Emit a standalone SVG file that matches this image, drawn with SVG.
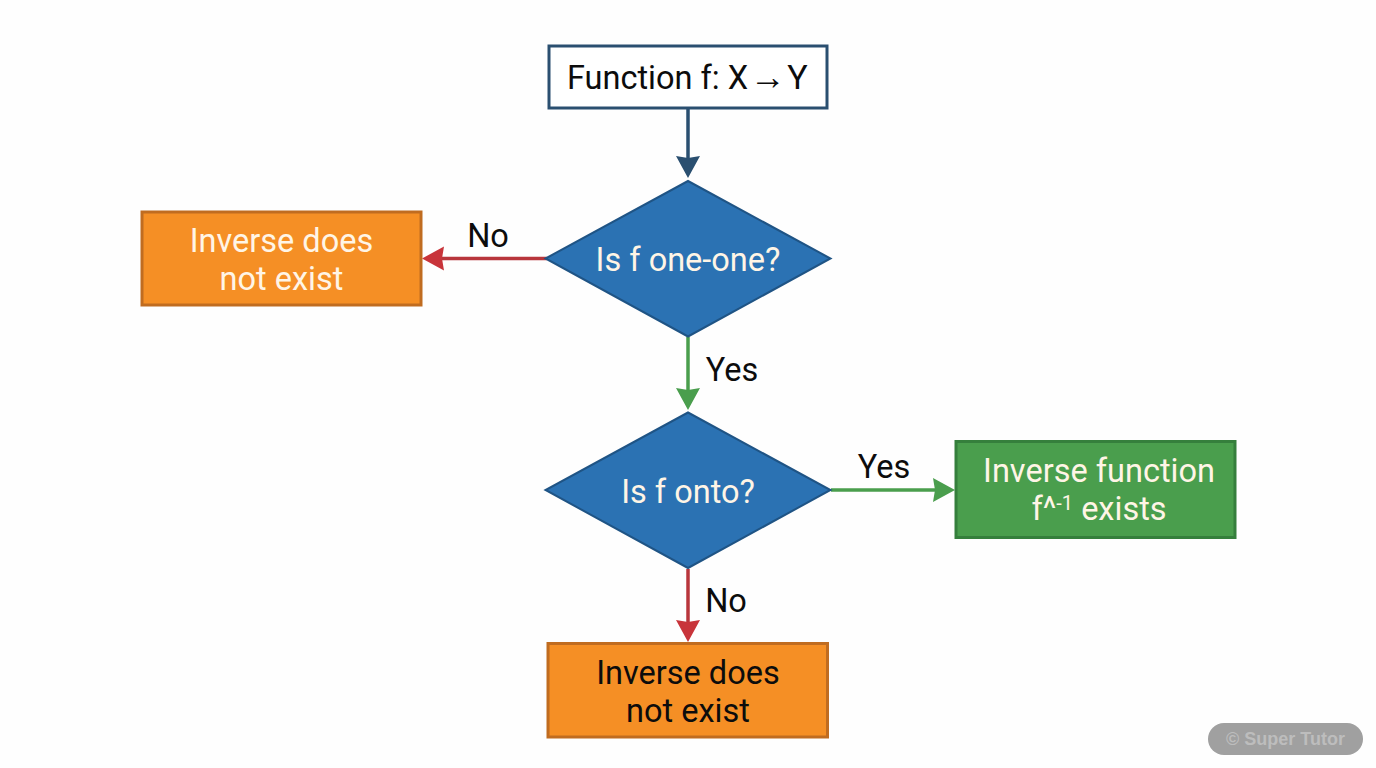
<svg xmlns="http://www.w3.org/2000/svg" width="1376" height="768" viewBox="0 0 1376 768">
<style>
text{font-family:Roboto,"Liberation Sans",sans-serif;text-anchor:middle;font-size:32.500px}
.w{fill:#fff5e6}.k{fill:#0c0c0c}
.o{fill:#f58f25;stroke:#c06c20;stroke-width:3}
.g{fill:#4a9e4d;stroke:#357f3c;stroke-width:3}
.d{fill:#2b72b3;stroke:#1f5485;stroke-width:2}
.c{fill:none;stroke-width:3.500}
</style>
<rect width="1376" height="768" fill="#fefefe"/>
<g id="connectors">
<path class="c" stroke="#2a4f70" d="M688 108V158"/><path d="M676 156L688 158L700 156L688 178Z" fill="#2a4f70"/>
<path class="c" stroke="#b8363c" d="M547 258.500H440"/><path d="M444 246.500L442 258.500L444 270.500L422 258.500Z" fill="#c8343a"/>
<path class="c" stroke="#4a9e4d" d="M688 337V390"/><path d="M676 388L688 390L700 388L688 410Z" fill="#4a9e4d"/>
<path class="c" stroke="#4a9e4d" d="M831 490H935"/><path d="M933 478L935 490L933 502L955 490Z" fill="#4a9e4d"/>
<path class="c" stroke="#b8363c" d="M688 569V622"/><path d="M676 620L688 622L700 620L688 642Z" fill="#c8343a"/>
<text class="k" x="488" y="247">No</text>
<text class="k" x="732" y="380.500">Yes</text>
<text class="k" x="884" y="478">Yes</text>
<text class="k" x="726" y="611.500">No</text>
</g>
<g id="start"><rect x="549" y="46" width="278" height="62" fill="#fff" stroke="#2a4f70" stroke-width="3"/><text class="k" x="687.500" y="88.500"><tspan x="657.500">Function f: X</tspan><tspan x="768" font-size="36">→</tspan><tspan x="797.500" font-size="34">Y</tspan></text></g>
<g id="decision1"><polygon class="d" points="688,181 830.500,258.500 688,336.500 545.500,258.500"/><text class="w" x="688" y="270.500">Is f one-one?</text></g>
<g id="no1"><rect class="o" x="142" y="212" width="279" height="93"/><text class="w" x="281.500" y="252">Inverse does</text><text class="w" x="281.500" y="289.500">not exist</text></g>
<g id="decision2"><polygon class="d" points="688,412.500 830.500,490 688,568 545.500,490"/><text class="w" x="688" y="502.500">Is f onto?</text></g>
<g id="yes"><rect class="g" x="956" y="441.500" width="279" height="96"/><text class="w" x="1099" y="481.500">Inverse function</text><text class="w" x="1099" y="519.500">f^<tspan font-size="20" dy="-10">-1</tspan><tspan dy="10"> exists</tspan></text></g>
<g id="no2"><rect class="o" x="548" y="643.500" width="279.500" height="93.500"/><text class="k" x="688" y="683.500">Inverse does</text><text class="k" x="688" y="721.500">not exist</text></g>
<g id="badge"><rect x="1208" y="723" width="155" height="32" rx="16" fill="#a0a0a0"/><text x="1285.500" y="745" style="font-family:'Liberation Sans',sans-serif;font-size:18px;font-weight:700" fill="#bdbdbd">© Super Tutor</text></g>
</svg>
